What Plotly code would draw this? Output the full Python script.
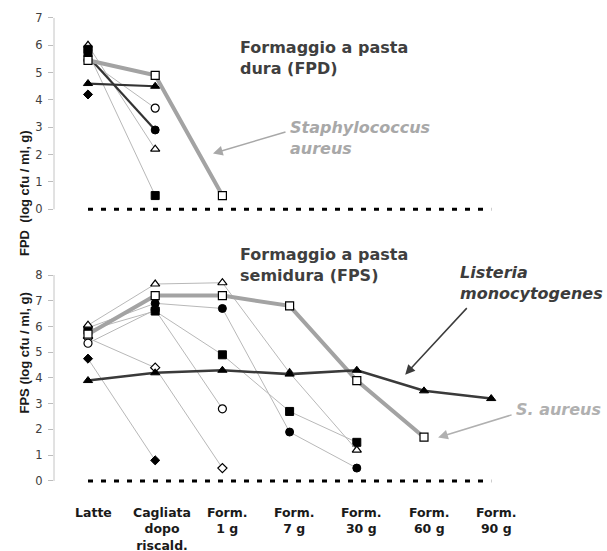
import plotly.graph_objects as go

W, H = 607, 551

# ---- categories (multi-line tick labels) ----
cat_lines = [
    ["Latte"],
    ["Cagliata", "dopo", "riscald."],
    ["Form.", "1 g"],
    ["Form.", "7 g"],
    ["Form.", "30 g"],
    ["Form.", "60 g"],
    ["Form.", "90 g"],
]
fpd_ticks = [0, 1, 2, 3, 4, 5, 6, 7]
fps_ticks = [0, 1, 2, 3, 4, 5, 6, 7, 8]

# ---- Formaggio a pasta dura (FPD), log cfu / ml, g ----
fpd_saureus = [5.45, 4.9, 0.5]
fpd_tri_fill = [4.6, 4.5]
fpd_circ_fill = [5.6, 2.9]
fpd_circ_open = [5.45, 3.7]
fpd_tri_open = [6.0, 2.2]
fpd_sq_fill = [5.75, 0.5]
fpd_sq_fill_b = [5.85]
fpd_diam_fill = [4.2]

# ---- Formaggio a pasta semidura (FPS) ----
fps_saureus = [5.7, 7.2, 7.2, 6.8, 3.9, 1.7]
fps_listeria = [3.9, 4.2, 4.3, 4.15, 4.3, 3.5, 3.2]
fps_tri_open = [6.05, 7.65, 7.7, 4.2, 1.2]
fps_circ_fill = [5.95, 6.9, 6.7, 1.9, 0.5]
fps_sq_fill = [5.85, 6.6, 4.9, 2.7, 1.5]
fps_circ_open = [5.35, 6.65, 2.8]
fps_diam_open = [5.55, 4.4, 0.5]
fps_diam_fill = [4.75, 0.8]

zero_line = [0, 0, 0, 0, 0, 0, 0]

# ---- pixel geometry of the two panels ----
X_AXIS_PX, X_CAT0_PX, X_STEP_PX = 54, 88, 67.2
x_range = [-(X_CAT0_PX - X_AXIS_PX) / X_STEP_PX, (W - X_CAT0_PX) / X_STEP_PX]

TOP_Y0, TOP_PPU = 209.0, 192.0 / 7
BOT_Y0, BOT_PPU = 481.7, (481.7 - 275.0) / 8
top_range = [-0.25, 7.2]
bot_range = [-0.25, 8.25]


def dom(y0px, ppu, rng):
    lo = y0px - rng[0] * ppu
    hi = y0px - rng[1] * ppu
    return [1 - lo / H, 1 - hi / H]


MARK = {
    "sq_open": dict(symbol="square", color="white", size=8, line=dict(color="black", width=1.2)),
    "sq_fill": dict(symbol="square", color="black", size=8, line=dict(color="black", width=1)),
    "tri_open": dict(symbol="triangle-up", color="white", size=8, line=dict(color="black", width=1.2)),
    "tri_fill": dict(symbol="triangle-up", color="black", size=8, line=dict(color="black", width=1)),
    "circ_open": dict(symbol="circle", color="white", size=8, line=dict(color="black", width=1.2)),
    "circ_fill": dict(symbol="circle", color="black", size=8, line=dict(color="black", width=1)),
    "diam_open": dict(symbol="diamond", color="white", size=7, line=dict(color="black", width=1.2)),
    "diam_fill": dict(symbol="diamond", color="black", size=7, line=dict(color="black", width=1)),
}

THIN = dict(color="#b8b8b8", width=1)
DARK = dict(color="#333333", width=2.2)
SA_LINE = dict(color="#a3a3a3", width=4)
LM_LINE = dict(color="#3a3a3a", width=2.6)

fig = go.Figure()


def add(vals, mk, line, xa, ya):
    fig.add_trace(go.Scatter(
        x=list(range(len(vals))), y=vals, mode="lines+markers",
        line=line, marker=MARK[mk], xaxis=xa, yaxis=ya,
        showlegend=False, cliponaxis=False, hoverinfo="skip"))


# zero baseline (dashed)
for xa, ya in (("x", "y"), ("x2", "y2")):
    fig.add_trace(go.Scatter(
        x=list(range(len(zero_line))), y=zero_line, mode="lines",
        line=dict(color="black", width=3, dash="5px,8px"),
        xaxis=xa, yaxis=ya, showlegend=False, hoverinfo="skip"))

# FPD panel
add(fpd_sq_fill, "sq_fill", THIN, "x", "y")
add(fpd_tri_open, "tri_open", THIN, "x", "y")
add(fpd_circ_open, "circ_open", THIN, "x", "y")
add(fpd_sq_fill_b, "sq_fill", THIN, "x", "y")
add(fpd_diam_fill, "diam_fill", THIN, "x", "y")
add(fpd_circ_fill, "circ_fill", DARK, "x", "y")
add(fpd_tri_fill, "tri_fill", DARK, "x", "y")
add(fpd_saureus, "sq_open", SA_LINE, "x", "y")

# FPS panel
add(fps_diam_fill, "diam_fill", THIN, "x2", "y2")
add(fps_diam_open, "diam_open", THIN, "x2", "y2")
add(fps_circ_open, "circ_open", THIN, "x2", "y2")
add(fps_sq_fill, "sq_fill", THIN, "x2", "y2")
add(fps_circ_fill, "circ_fill", THIN, "x2", "y2")
add(fps_tri_open, "tri_open", THIN, "x2", "y2")
add(fps_saureus, "sq_open", SA_LINE, "x2", "y2")
add(fps_listeria, "tri_fill", LM_LINE, "x2", "y2")

yax_common = dict(
    showgrid=False, zeroline=False, showline=False,
    ticks="outside", ticklen=5, tickcolor="#bdbdbd", tickwidth=1,
    ticklabelstandoff=3,
    tickfont=dict(family="DejaVu Sans", size=11.5, color="#404040"),
    fixedrange=True,
)
xax_common = dict(visible=False, range=x_range, domain=[X_AXIS_PX / W, 1], fixedrange=True)

fig.update_layout(
    width=W, height=H,
    margin=dict(l=0, r=0, t=0, b=0),
    paper_bgcolor="white", plot_bgcolor="rgba(0,0,0,0)",
    xaxis=dict(**xax_common, anchor="y"),
    xaxis2=dict(**xax_common, anchor="y2"),
    yaxis=dict(**yax_common, range=top_range, domain=dom(TOP_Y0, TOP_PPU, top_range),
               tickvals=fpd_ticks, anchor="x"),
    yaxis2=dict(**yax_common, range=bot_range, domain=dom(BOT_Y0, BOT_PPU, bot_range),
                tickvals=fps_ticks, anchor="x2"),
)

# vertical axis lines from 0 to the top tick
fig.add_shape(type="line", xref="paper", yref="y", x0=X_AXIS_PX / W, x1=X_AXIS_PX / W,
              y0=0, y1=fpd_ticks[-1], line=dict(color="#c4c4c4", width=1))
fig.add_shape(type="line", xref="paper", yref="y2", x0=X_AXIS_PX / W, x1=X_AXIS_PX / W,
              y0=0, y1=fps_ticks[-1], line=dict(color="#c4c4c4", width=1))

BOLD = "DejaVu Sans"
ann = []

# category labels under the lower panel
for i, lines in enumerate(cat_lines):
    ann.append(dict(x=i, xref="x2", y=1 - 505 / H, yref="paper",
                    text="<b>%s</b>" % "<br>".join(lines), showarrow=False,
                    xanchor="center", yanchor="top", align="center",
                    xshift=7 if len(lines) == 3 else 5, borderpad=0,
                    font=dict(family=BOLD, size=12.5, color="#1a1a1a")))

# axis titles
ann.append(dict(x=15 / W, y=1 - 128 / H, xref="paper", yref="paper", textangle=-90,
                text="<b>FPD&nbsp; (log cfu / ml, g)</b>", showarrow=False,
                font=dict(family="Liberation Sans", size=13, color="#1a1a1a")))
ann.append(dict(x=15 / W, y=1 - 416 / H, xref="paper", yref="paper", textangle=-90,
                text="<b>FPS (log cfu / ml, g)</b>", showarrow=False,
                font=dict(family="Liberation Sans", size=13, color="#1a1a1a")))

# panel titles
ann.append(dict(x=238 / W, y=1 - 35 / H, xref="paper", yref="paper", xanchor="left", yanchor="top",
                align="left", text="<b>Formaggio a pasta<br>dura (FPD)</b>", showarrow=False,
                font=dict(family=BOLD, size=16, color="#3f3f3f")))
ann.append(dict(x=238 / W, y=1 - 243 / H, xref="paper", yref="paper", xanchor="left", yanchor="top",
                align="left", text="<b>Formaggio a pasta<br>semidura (FPS)</b>", showarrow=False,
                font=dict(family=BOLD, size=16, color="#3f3f3f")))

# species labels
ann.append(dict(x=288 / W, y=1 - 115 / H, xref="paper", yref="paper", xanchor="left", yanchor="top",
                align="left", text="<b><i>Staphylococcus<br>aureus</i></b>", showarrow=False,
                font=dict(family=BOLD, size=16, color="#a8a8a8")))
ann.append(dict(x=458 / W, y=1 - 261 / H, xref="paper", yref="paper", xanchor="left", yanchor="top",
                align="left", text="<b><i>Listeria<br>monocytogenes</i></b>", showarrow=False,
                font=dict(family=BOLD, size=16, color="#3c3c3c")))
ann.append(dict(x=514 / W, y=1 - 410 / H, xref="paper", yref="paper", xanchor="left", yanchor="middle",
                align="left", text="<b><i>S. aureus</i></b>", showarrow=False,
                font=dict(family=BOLD, size=16, color="#b0b0b0")))

# pointer arrows
ann.append(dict(x=1.86, y=2.04, xref="x", yref="y", ax=74, ay=-22, text="", showarrow=True,
                arrowhead=2, arrowsize=1.3, arrowwidth=1.5, arrowcolor="#a8a8a8"))
ann.append(dict(x=4.72, y=4.13, xref="x2", yref="y2", ax=63, ay=-68, text="", showarrow=True,
                arrowhead=2, arrowsize=1.3, arrowwidth=1.5, arrowcolor="#3c3c3c"))
ann.append(dict(x=5.21, y=1.69, xref="x2", yref="y2", ax=75, ay=-23, text="", showarrow=True,
                arrowhead=2, arrowsize=1.3, arrowwidth=1.5, arrowcolor="#b0b0b0"))

fig.update_layout(annotations=ann)

fig.write_html("out.html")
